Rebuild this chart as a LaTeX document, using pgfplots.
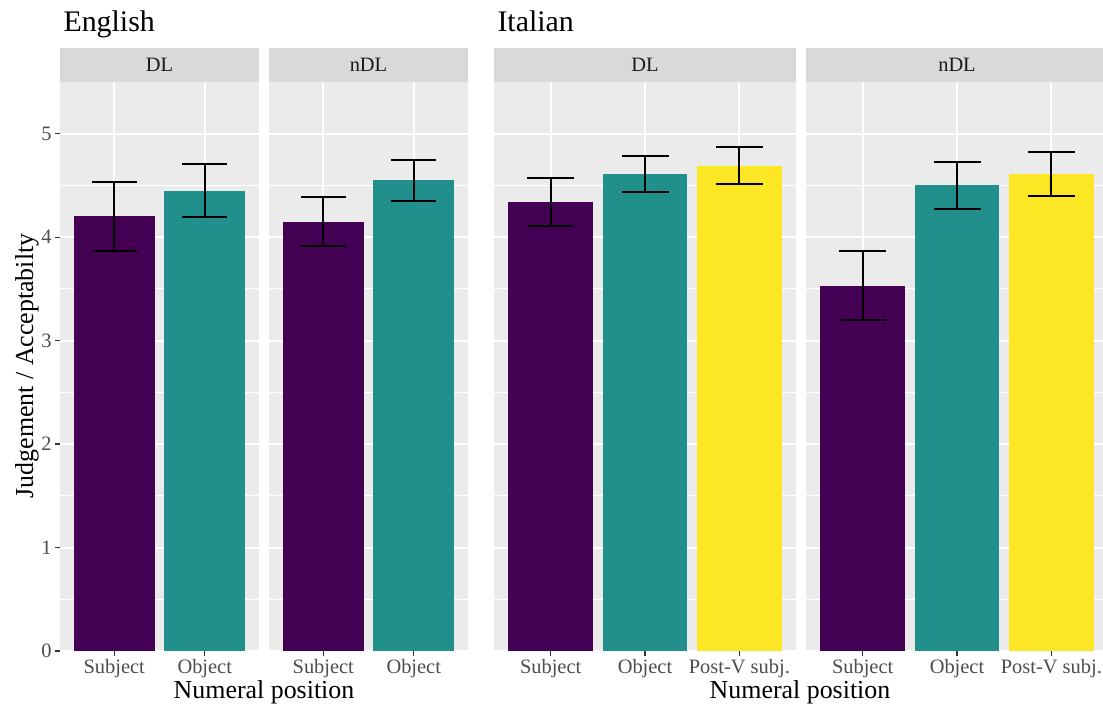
\documentclass[border=0pt]{standalone}
\usepackage{fontspec}
\setmainfont{Liberation Serif}
\usepackage{pgfplots}
\pgfplotsset{compat=1.18}

\definecolor{vpurple}{HTML}{440154}
\definecolor{vteal}{HTML}{21908C}
\definecolor{vyellow}{HTML}{FDE725}
\definecolor{panelbg}{HTML}{EBEBEB}
\definecolor{stripbg}{HTML}{D9D9D9}
\definecolor{ticklab}{HTML}{4D4D4D}
\definecolor{tickcol}{HTML}{333333}
\definecolor{striptext}{HTML}{1A1A1A}

\pgfplotsset{
  facet/.style={
    scale only axis, height=569bp, ymin=0, ymax=5.5,
    axis line style={draw=none},
    axis background/.style={fill=panelbg},
    ytick={0,1,2,3,4,5}, yticklabels={0,1,2,3,4,5},
    minor ytick={0.5,1.5,2.5,3.5,4.5},
    grid=both,
    major grid style={white, line width=2bp},
    minor grid style={white, line width=1bp},
    tick style={tickcol, line width=1.2bp},
    major tick length=5bp, minor tick length=0pt,
    tick align=outside, xtick pos=bottom, ytick pos=left,
    tick label style={font=\fontsize{20.5}{23}\selectfont, text=ticklab},
    clip=false,
  },
  facet2/.style={facet, width=199bp, xmin=0.4, xmax=2.6,
    xtick={1,2}, xticklabels={Subject,Object}},
  facet3/.style={facet, width=302bp, xmin=0.4, xmax=3.6,
    xtick={1,2,3}, xticklabels={Subject,Object,Post-V subj.}},
  noy/.style={yticklabels={}, ytick style={draw=none}},
  bar/.style={ybar, bar width=0.9, bar shift=0pt, draw=none, fill=#1},
  errs/.style={draw=none, mark=none,
    error bars/.cd, y dir=both, y explicit,
    error bar style={draw=black, line width=2bp},
    error mark options={draw=black, line width=2bp, mark size=#1, rotate=90}},
}

% strip header drawn above a facet
\newcommand{\strip}[1]{%
  \fill[stripbg] (rel axis cs:0,1) rectangle ([yshift=34bp]rel axis cs:1,1);
  \node[font=\fontsize{20.5}{23}\selectfont, text=striptext]
    at ([yshift=17bp]rel axis cs:0.5,1) {#1};
}

\begin{document}
\begin{tikzpicture}
\useasboundingbox (0,-55bp) rectangle (1103bp,651bp);

% English, DL
\begin{axis}[facet2, at={(60bp,0)}, anchor=south west]
  \addplot[bar=vpurple] coordinates {(1,4.20)};
  \addplot[bar=vteal]   coordinates {(2,4.45)};
  \addplot[errs=22.5bp] coordinates {(1,4.20) +- (0,0.33) (2,4.45) +- (0,0.255)};
  \strip{DL}
\end{axis}

% English, nDL
\begin{axis}[facet2, noy, at={(269bp,0)}, anchor=south west]
  \addplot[bar=vpurple] coordinates {(1,4.15)};
  \addplot[bar=vteal]   coordinates {(2,4.55)};
  \addplot[errs=22.5bp] coordinates {(1,4.15) +- (0,0.24) (2,4.55) +- (0,0.20)};
  \strip{nDL}
\end{axis}

% Italian, DL
\begin{axis}[facet3, noy, at={(494bp,0)}, anchor=south west]
  \addplot[bar=vpurple] coordinates {(1,4.34)};
  \addplot[bar=vteal]   coordinates {(2,4.61)};
  \addplot[bar=vyellow] coordinates {(3,4.69)};
  \addplot[errs=23.5bp] coordinates {(1,4.34) +- (0,0.23) (2,4.61) +- (0,0.175) (3,4.69) +- (0,0.18)};
  \strip{DL}
\end{axis}

% Italian, nDL
\begin{axis}[facet3, noy, at={(806bp,0)}, anchor=south west]
  \addplot[bar=vpurple] coordinates {(1,3.53)};
  \addplot[bar=vteal]   coordinates {(2,4.50)};
  \addplot[bar=vyellow] coordinates {(3,4.61)};
  \addplot[errs=23.5bp] coordinates {(1,3.53) +- (0,0.335) (2,4.50) +- (0,0.225) (3,4.61) +- (0,0.215)};
  \strip{nDL}
\end{axis}

% titles and axis titles
\node[anchor=base west, font=\fontsize{30}{34}\selectfont] at (60bp,619bp) {English};
\node[anchor=base west, font=\fontsize{30}{34}\selectfont] at (494bp,619bp) {Italian};
\node[font=\fontsize{26}{29}\selectfont] at (264bp,-41bp) {Numeral position};
\node[font=\fontsize{26}{29}\selectfont] at (800bp,-41bp) {Numeral position};
\node[rotate=90, font=\fontsize{26}{29}\selectfont] at (27bp,285bp) {Judgement / Acceptabilty};
\end{tikzpicture}
\end{document}
